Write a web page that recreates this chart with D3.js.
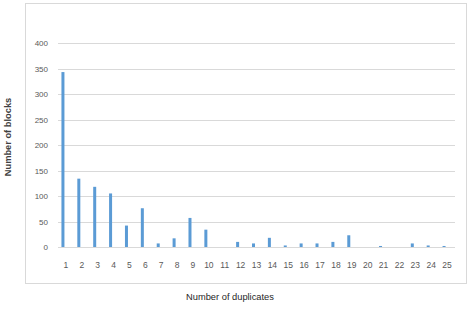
<!DOCTYPE html>
<meta charset="utf-8">
<script src="https://d3js.org/d3.v7.min.js"></script>
<style>
body{margin:0;background:#fff;}
text{font-family:"Liberation Sans",Arial,sans-serif;}
</style>
<body>
<div id="chart"></div>
<script>
// number of duplicates (categories) and number of blocks
var categories = d3.range(1, 26).map(String);
var blocks = [343, 134, 118, 105, 42, 76, 7, 17, 57, 34, 0, 10, 7, 18, 3, 7, 7, 10, 23, 0, 2, 0, 7, 3, 2];
var yTicks = [0, 50, 100, 150, 200, 250, 300, 350, 400];

var W = 473, H = 311;
var m = {left: 58, right: 18, top: 43, bottom: 64}; // plot box 58..455, 43..247

var svg = d3.select('#chart').append('svg').attr('width', W).attr('height', H);

// outer chart frame
svg.append('rect').attr('x', 25.5).attr('y', 3.5).attr('width', 441).attr('height', 280)
  .attr('fill', 'none').attr('stroke', '#d9d9d9').attr('stroke-width', 1);

var x = d3.scaleBand().domain(categories).range([m.left, W - m.right]);
var y = d3.scaleLinear().domain([0, 400]).range([H - m.bottom, m.top]);

// gridlines
svg.append('g').selectAll('line').data(yTicks).join('line')
  .attr('x1', m.left).attr('x2', W - m.right)
  .attr('y1', d => Math.round(y(d)) + 0.5).attr('y2', d => Math.round(y(d)) + 0.5)
  .attr('stroke', '#d9d9d9').attr('stroke-width', 1);

// y labels
svg.append('g').selectAll('text').data(yTicks).join('text')
  .attr('x', 48).attr('y', d => y(d) + 3)
  .attr('text-anchor', 'end').attr('font-size', 8).attr('fill', '#595959')
  .text(d => d);

// bars (sit a bit left of the category centre)
svg.append('g').selectAll('rect').data(blocks).join('rect')
  .attr('x', (d, i) => x(categories[i]) + x.bandwidth() / 2 - 4.5)
  .attr('width', 3)
  .attr('y', d => y(d))
  .attr('height', d => y(0) - y(d))
  .attr('fill', '#5b9bd5');

// x labels
svg.append('g').selectAll('text').data(categories).join('text')
  .attr('x', d => x(d) + x.bandwidth() / 2).attr('y', 268)
  .attr('text-anchor', 'middle').attr('font-size', 8.5).attr('fill', '#595959')
  .text(d => d);

// axis titles
svg.append('text').attr('x', 230).attr('y', 300).attr('text-anchor', 'middle')
  .attr('font-size', 9.3).attr('fill', '#262626').text('Number of duplicates');
svg.append('text').attr('transform', 'translate(11,137) rotate(-90)').attr('text-anchor', 'middle')
  .attr('font-size', 9.3).attr('font-weight', 'bold').attr('fill', '#404040').text('Number of blocks');
</script>
</body>
